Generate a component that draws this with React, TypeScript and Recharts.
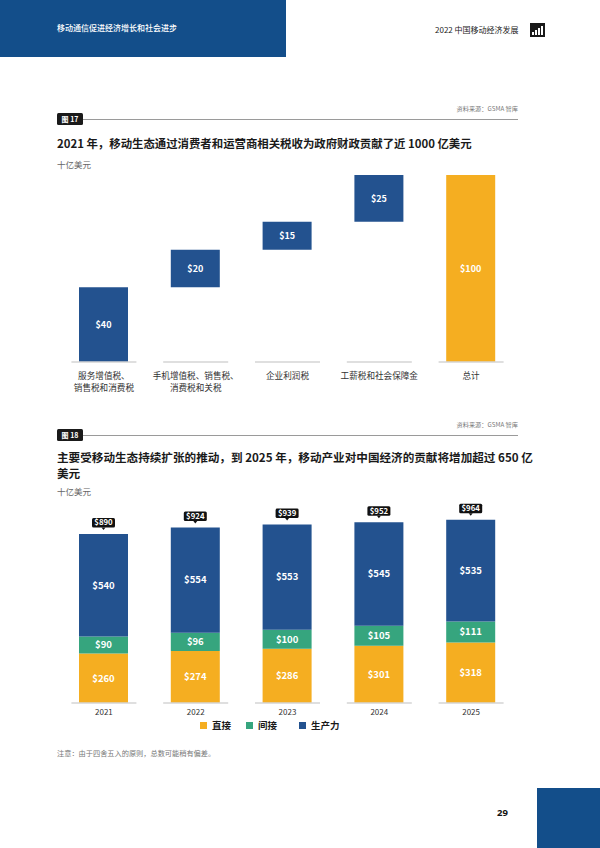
import React from 'react';
import { BarChart, Bar, XAxis, YAxis, Cell, LabelList } from 'recharts';

// ---------- Figure 17 data ----------
const taxCategories = ['服务增值税、\n销售税和消费税', '手机增值税、销售税、\n消费税和关税', '企业利润税', '工薪税和社会保障金', '总计'];
const taxValues = [40, 20, 15, 25, 100];
const taxIsTotal = [false, false, false, false, true];

// ---------- Figure 18 data ----------
const years = ['2021', '2022', '2023', '2024', '2025'];
const directValues = [260, 274, 286, 301, 318];
const indirectValues = [90, 96, 100, 105, 111];
const productivityValues = [540, 554, 553, 545, 535];
const totalValues = [890, 924, 939, 952, 964];

const BLUE = '#23528F';
const GREEN = '#36A57E';
const YELLOW = '#F5AE21';
const NAVY = '#134E8A';
const FONT = '"Noto Sans CJK SC", "Noto Sans", sans-serif';

// waterfall: invisible base + visible segment
const taxData = taxCategories.map((name, i) => {
  let base = 0;
  if (!taxIsTotal[i]) {
    for (let j = 0; j < i; j++) if (!taxIsTotal[j]) base += taxValues[j];
  }
  return { name, base, value: taxValues[i], total: taxIsTotal[i] };
});

const econData = years.map((year, i) => ({
  year,
  direct: directValues[i],
  indirect: indirectValues[i],
  productivity: productivityValues[i],
  total: totalValues[i],
}));

const TaxTick = (props: any) => {
  const { x, y, payload } = props;
  const lines = String(payload.value).split('\n');
  return (
    <g>
      <line x1={x - 32.5} x2={x + 32.5} y1={y} y2={y} stroke="#d4d4d4" strokeWidth={1.5} />
      {lines.map((l, i) => (
        <text key={i} x={x} y={y + 16.5 + i * 12} textAnchor="middle" fontSize={8.6} fill="#333" fontFamily={FONT}>
          {l}
        </text>
      ))}
    </g>
  );
};

const YearTick = (props: any) => {
  const { x, y, payload } = props;
  return (
    <g>
      <line x1={x - 32.5} x2={x + 32.5} y1={y} y2={y} stroke="#d4d4d4" strokeWidth={1.5} />
      <text x={x} y={y + 12} textAnchor="middle" fontSize={8} fill="#333" fontFamily={FONT}>
        {payload.value}
      </text>
    </g>
  );
};

const TotalBadge = (props: any) => {
  const vb = props.viewBox || props;
  const x = Number(vb.x);
  const y = Number(vb.y);
  const w = Number(vb.width);
  const cx = x + w / 2;
  const bw = 23;
  const bh = 9.5;
  const top = y - 16;
  return (
    <g>
      <rect x={cx - bw / 2} y={top} width={bw} height={bh} rx={1.5} fill="#111" />
      <path d={`M${cx - 2},${top + bh} L${cx + 2},${top + bh} L${cx},${top + bh + 2.5} Z`} fill="#111" />
      <text x={cx} y={top + bh / 2 + 2.8} textAnchor="middle" fontSize={7.8} fontWeight={700} fill="#fff" fontFamily={FONT}>
        ${props.value}
      </text>
    </g>
  );
};

const FigHeader = ({ top, num }: { top: number; num: string }) => (
  <>
    <div style={{ position: 'absolute', left: 57, top: top, width: 26, height: 12, background: '#1a1a1a', borderRadius: 1.5, color: '#fff', fontSize: 7, fontWeight: 700, lineHeight: '12px', textAlign: 'center', fontFamily: FONT, whiteSpace: 'nowrap' }}>
      图 {num}
    </div>
    <div style={{ position: 'absolute', left: 83, top: top + 5.5, width: 435, height: 1.5, background: '#9a9a9a' }} />
    <div style={{ position: 'absolute', right: 82, top: top - 9, fontSize: 6.2, color: '#777', fontFamily: FONT, whiteSpace: 'nowrap' }}>
      资料来源：GSMA 智库
    </div>
  </>
);

const moneyFmt = (v: any) => `$${v}`;

export default function App() {
  return (
    <div style={{ position: 'absolute', left: 0, top: 0, width: 600, height: 848, background: '#fff', overflow: 'hidden', fontFamily: FONT }}>
      {/* page header */}
      <div style={{ position: 'absolute', left: 0, top: 0, width: 286, height: 57, background: NAVY }} />
      <div style={{ position: 'absolute', left: 57, top: 22, fontSize: 8, color: '#fff', fontWeight: 500, whiteSpace: 'nowrap' }}>
        移动通信促进经济增长和社会进步
      </div>
      <div style={{ position: 'absolute', left: 435, top: 24, fontSize: 8, color: '#222', whiteSpace: 'nowrap' }}>
        2022 中国移动经济发展
      </div>
      <svg style={{ position: 'absolute', left: 530, top: 23 }} width={15} height={14}>
        <rect x={0} y={0} width={15} height={14} fill="#1a1a1a" />
        <rect x={2} y={9} width={2} height={3} fill="#fff" />
        <rect x={5} y={7} width={2} height={5} fill="#fff" />
        <rect x={8} y={5} width={2} height={7} fill="#fff" />
        <rect x={11} y={3} width={2} height={9} fill="#fff" />
      </svg>

      {/* Figure 17 */}
      <FigHeader top={113} num="17" />
      <div style={{ position: 'absolute', left: 57, top: 135, fontSize: 11.4, fontWeight: 700, color: '#1a1a1a', whiteSpace: 'nowrap' }}>
        2021 年，移动生态通过消费者和运营商相关税收为政府财政贡献了近 1000 亿美元
      </div>
      <div style={{ position: 'absolute', left: 57, top: 158, fontSize: 8.5, color: '#666', whiteSpace: 'nowrap' }}>十亿美元</div>
      <div style={{ position: 'absolute', left: 0, top: 160 }}>
        <BarChart width={600} height={240} data={taxData} margin={{ top: 15, right: 83, bottom: 0, left: 58 }} barSize={49}>
          <XAxis dataKey="name" axisLine={false} tickLine={false} tickSize={0} tickMargin={0} height={38} interval={0} tick={<TaxTick />} />
          <YAxis hide domain={[0, 100]} />
          <Bar dataKey="base" stackId="w" fill="transparent" isAnimationActive={false} />
          <Bar dataKey="value" stackId="w" isAnimationActive={false}>
            {taxData.map((d, i) => (
              <Cell key={i} fill={d.total ? YELLOW : BLUE} />
            ))}
            <LabelList dataKey="value" position="center" formatter={moneyFmt} fill="#fff" fontSize={9} fontWeight={700} fontFamily={FONT} />
          </Bar>
        </BarChart>
      </div>

      {/* Figure 18 */}
      <FigHeader top={429} num="18" />
      <div style={{ position: 'absolute', left: 57, top: 449, fontSize: 11.6, fontWeight: 700, color: '#1a1a1a', lineHeight: '16px', whiteSpace: 'nowrap' }}>
        主要受移动生态持续扩张的推动，到 2025 年，移动产业对中国经济的贡献将增加超过 650 亿
        <br />
        美元
      </div>
      <div style={{ position: 'absolute', left: 57, top: 485, fontSize: 8.5, color: '#666', whiteSpace: 'nowrap' }}>十亿美元</div>
      <div style={{ position: 'absolute', left: 0, top: 500 }}>
        <BarChart width={600} height={240} data={econData} margin={{ top: 13, right: 83, bottom: 10, left: 58 }} barSize={49}>
          <XAxis dataKey="year" axisLine={false} tickLine={false} tickSize={0} tickMargin={0} height={27} interval={0} tick={<YearTick />} />
          <YAxis hide domain={[0, 1000]} />
          <Bar dataKey="direct" name="直接" stackId="s" fill={YELLOW} isAnimationActive={false}>
            <LabelList dataKey="direct" position="center" formatter={moneyFmt} fill="#fff" fontSize={9.5} fontWeight={700} fontFamily={FONT} />
          </Bar>
          <Bar dataKey="indirect" name="间接" stackId="s" fill={GREEN} isAnimationActive={false}>
            <LabelList dataKey="indirect" position="center" formatter={moneyFmt} fill="#fff" fontSize={9.5} fontWeight={700} fontFamily={FONT} />
          </Bar>
          <Bar dataKey="productivity" name="生产力" stackId="s" fill={BLUE} isAnimationActive={false}>
            <LabelList dataKey="productivity" position="center" formatter={moneyFmt} fill="#fff" fontSize={9.5} fontWeight={700} fontFamily={FONT} />
            <LabelList dataKey="total" content={<TotalBadge />} />
          </Bar>
        </BarChart>
      </div>

      {/* legend */}
      <div style={{ position: 'absolute', left: 200, top: 718, display: 'flex', alignItems: 'center', fontSize: 9.5, fontWeight: 700, color: '#1a1a1a', whiteSpace: 'nowrap' }}>
        <span style={{ display: 'inline-block', width: 7, height: 7, background: YELLOW, marginRight: 5 }} />
        <span style={{ marginRight: 15 }}>直接</span>
        <span style={{ display: 'inline-block', width: 7, height: 7, background: GREEN, marginRight: 5 }} />
        <span style={{ marginRight: 22 }}>间接</span>
        <span style={{ display: 'inline-block', width: 7, height: 7, background: BLUE, marginRight: 5 }} />
        <span>生产力</span>
      </div>

      <div style={{ position: 'absolute', left: 57, top: 748, fontSize: 7.2, color: '#777', whiteSpace: 'nowrap' }}>
        注意：由于四舍五入的原则，总数可能稍有偏差。
      </div>

      <div style={{ position: 'absolute', left: 497, top: 806, fontSize: 9.5, fontWeight: 700, color: '#111', fontFamily: '"Noto Sans", sans-serif' }}>29</div>
      <div style={{ position: 'absolute', left: 537, top: 788, width: 63, height: 60, background: NAVY }} />
    </div>
  );
}
